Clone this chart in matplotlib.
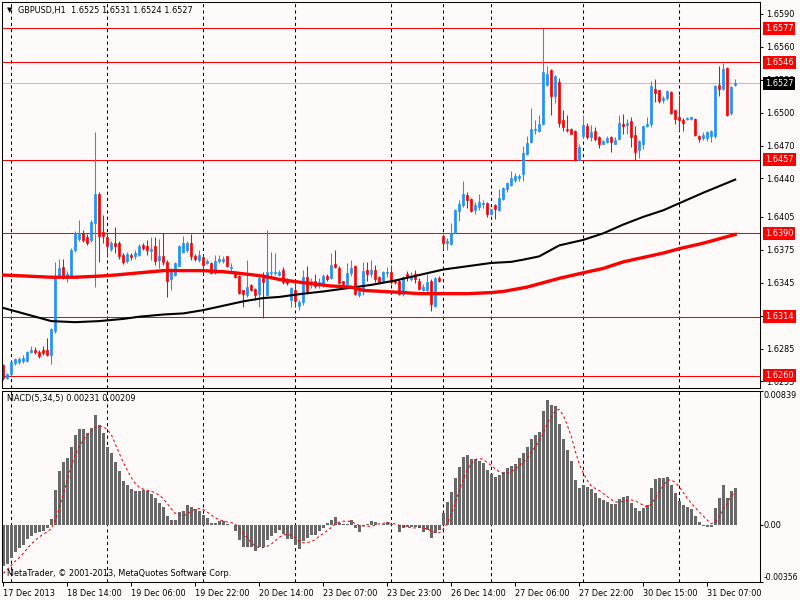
import numpy as np
import pandas as pd
import matplotlib
matplotlib.use("Agg")
import matplotlib.pyplot as plt
import matplotlib.transforms as mtransforms

# =========================
# data (bar 0 = 17 Dec 22:00)
# =========================
open_ = [
    1.6270, 1.6258, 1.6262, 1.6272, 1.6273, 1.6274, 1.6274, 1.6282, 1.6284, 1.6282,
    1.6284, 1.6284, 1.6279, 1.6301, 1.6352, 1.6359, 1.6349, 1.6352, 1.6375, 1.6385,
    1.6390, 1.6387, 1.6384, 1.6399, 1.6426, 1.6391, 1.6387, 1.6376, 1.6381, 1.6381,
    1.6370, 1.6365, 1.6370, 1.6369, 1.6370, 1.6379, 1.6378, 1.6374, 1.6378, 1.6366,
    1.6369, 1.6364, 1.6348, 1.6352, 1.6360, 1.6373, 1.6375, 1.6381, 1.6369, 1.6366,
    1.6368, 1.6363, 1.6363, 1.6354, 1.6365, 1.6365, 1.6369, 1.6358, 1.6355, 1.6351,
    1.6338, 1.6334, 1.6343, 1.6339, 1.6335, 1.6350, 1.6334, 1.6354, 1.6354, 1.6352,
    1.6357, 1.6348, 1.6329, 1.6338, 1.6324, 1.6327, 1.6350, 1.6344, 1.6347, 1.6343,
    1.6344, 1.6351, 1.6349, 1.6362, 1.6358, 1.6347, 1.6344, 1.6354, 1.6360, 1.6334,
    1.6338, 1.6357, 1.6353, 1.6357, 1.6350, 1.6347, 1.6354, 1.6355, 1.6347, 1.6347,
    1.6335, 1.6353, 1.6348, 1.6353, 1.6347, 1.6338, 1.6338, 1.6347, 1.6324, 1.6349,
    1.6388, 1.6381, 1.6380, 1.6390, 1.6410, 1.6416, 1.6425, 1.6421, 1.6411, 1.6414,
    1.6417, 1.6418, 1.6408, 1.6416, 1.6411, 1.6421, 1.6430, 1.6434, 1.6439, 1.6440,
    1.6444, 1.6462, 1.6473, 1.6484, 1.6483, 1.6490, 1.6525, 1.6539, 1.6515, 1.6528,
    1.6493, 1.6485, 1.6485, 1.6483, 1.6457, 1.6479, 1.6488, 1.6478, 1.6483, 1.6478,
    1.6471, 1.6473, 1.6478, 1.6471, 1.6476, 1.6490, 1.6489, 1.6492, 1.6480, 1.6466,
    1.6471, 1.6488, 1.6490, 1.6522, 1.6521, 1.6512, 1.6513, 1.6519, 1.6502, 1.6496,
    1.6493, 1.6494, 1.6494, 1.6494, 1.6479, 1.6477, 1.6477, 1.6479, 1.6479, 1.6525,
    1.6522, 1.6541, 1.6500, 1.6525]

high_ = [
    1.6271, 1.6263, 1.6274, 1.6276, 1.6277, 1.6279, 1.6283, 1.6287, 1.6286, 1.6284,
    1.6287, 1.6295, 1.6304, 1.6364, 1.6367, 1.6367, 1.6356, 1.6377, 1.6392, 1.6402,
    1.6393, 1.6389, 1.6402, 1.6482, 1.6428, 1.6407, 1.6390, 1.6383, 1.6396, 1.6383,
    1.6372, 1.6373, 1.6372, 1.6375, 1.6380, 1.6381, 1.6384, 1.6387, 1.6387, 1.6385,
    1.6390, 1.6366, 1.6358, 1.6364, 1.6379, 1.6388, 1.6383, 1.6389, 1.6371, 1.6375,
    1.6370, 1.6367, 1.6364, 1.6370, 1.6370, 1.6369, 1.6369, 1.6363, 1.6356, 1.6352,
    1.6338, 1.6366, 1.6344, 1.6340, 1.6352, 1.6355, 1.6393, 1.6373, 1.6372, 1.6357,
    1.6359, 1.6349, 1.6341, 1.6346, 1.6329, 1.6357, 1.6360, 1.6349, 1.6353, 1.6349,
    1.6353, 1.6353, 1.6372, 1.6375, 1.6360, 1.6347, 1.6363, 1.6366, 1.6361, 1.6341,
    1.6364, 1.6364, 1.6366, 1.6361, 1.6351, 1.6356, 1.6359, 1.6361, 1.6348, 1.6348,
    1.6351, 1.6356, 1.6355, 1.6357, 1.6349, 1.6344, 1.6353, 1.6348, 1.6350, 1.6351,
    1.6389, 1.6386, 1.6399, 1.6412, 1.6420, 1.6438, 1.6428, 1.6422, 1.6419, 1.6426,
    1.6420, 1.6419, 1.6412, 1.6417, 1.6430, 1.6432, 1.6437, 1.6447, 1.6445, 1.6444,
    1.6470, 1.6479, 1.6504, 1.6493, 1.6498, 1.6577, 1.6543, 1.6540, 1.6534, 1.6532,
    1.6502, 1.6498, 1.6486, 1.6484, 1.6471, 1.6498, 1.6491, 1.6489, 1.6487, 1.6479,
    1.6475, 1.6479, 1.6479, 1.6478, 1.6498, 1.6499, 1.6494, 1.6496, 1.6488, 1.6475,
    1.6489, 1.6496, 1.6529, 1.6531, 1.6521, 1.6515, 1.6521, 1.6520, 1.6502, 1.6516,
    1.6495, 1.6496, 1.6496, 1.6495, 1.6480, 1.6482, 1.6483, 1.6484, 1.6525, 1.6543,
    1.6545, 1.6542, 1.6524, 1.6531]

low_ = [
    1.6256, 1.6257, 1.6260, 1.6270, 1.6271, 1.6272, 1.6273, 1.6281, 1.6280, 1.6276,
    1.6279, 1.6278, 1.6271, 1.6299, 1.6350, 1.6348, 1.6346, 1.6350, 1.6373, 1.6383,
    1.6382, 1.6379, 1.6382, 1.6341, 1.6364, 1.6381, 1.6369, 1.6374, 1.6372, 1.6367,
    1.6362, 1.6363, 1.6366, 1.6367, 1.6369, 1.6375, 1.6370, 1.6366, 1.6361, 1.6358,
    1.6361, 1.6332, 1.6338, 1.6351, 1.6360, 1.6372, 1.6373, 1.6366, 1.6365, 1.6364,
    1.6353, 1.6362, 1.6353, 1.6353, 1.6363, 1.6363, 1.6359, 1.6355, 1.6349, 1.6335,
    1.6323, 1.6332, 1.6337, 1.6329, 1.6323, 1.6313, 1.6333, 1.6350, 1.6352, 1.6351,
    1.6344, 1.6343, 1.6323, 1.6323, 1.6320, 1.6325, 1.6335, 1.6340, 1.6340, 1.6340,
    1.6341, 1.6347, 1.6348, 1.6358, 1.6344, 1.6343, 1.6343, 1.6351, 1.6334, 1.6332,
    1.6334, 1.6347, 1.6350, 1.6346, 1.6345, 1.6346, 1.6350, 1.6344, 1.6344, 1.6334,
    1.6333, 1.6347, 1.6347, 1.6345, 1.6338, 1.6337, 1.6335, 1.6319, 1.6323, 1.6346,
    1.6376, 1.6375, 1.6379, 1.6390, 1.6401, 1.6414, 1.6413, 1.6409, 1.6408, 1.6411,
    1.6413, 1.6405, 1.6407, 1.6403, 1.6410, 1.6420, 1.6428, 1.6433, 1.6437, 1.6438,
    1.6438, 1.6461, 1.6472, 1.6481, 1.6482, 1.6489, 1.6524, 1.6498, 1.6509, 1.6487,
    1.6483, 1.6482, 1.6481, 1.6456, 1.6456, 1.6477, 1.6476, 1.6474, 1.6474, 1.6468,
    1.6471, 1.6472, 1.6464, 1.6471, 1.6475, 1.6481, 1.6481, 1.6469, 1.6457, 1.6459,
    1.6467, 1.6487, 1.6487, 1.6510, 1.6509, 1.6509, 1.6512, 1.6499, 1.6490, 1.6483,
    1.6483, 1.6493, 1.6493, 1.6479, 1.6473, 1.6475, 1.6474, 1.6473, 1.6477, 1.6515,
    1.6521, 1.6497, 1.6498, 1.6524]

close_ = [
    1.6258, 1.6262, 1.6273, 1.6275, 1.6275, 1.6276, 1.6282, 1.6284, 1.6282, 1.6278,
    1.6281, 1.6279, 1.6303, 1.6349, 1.6358, 1.6350, 1.6353, 1.6375, 1.6390, 1.6390,
    1.6384, 1.6381, 1.6400, 1.6426, 1.6388, 1.6388, 1.6378, 1.6381, 1.6378, 1.6369,
    1.6364, 1.6371, 1.6368, 1.6372, 1.6378, 1.6377, 1.6375, 1.6376, 1.6365, 1.6369,
    1.6364, 1.6347, 1.6355, 1.6363, 1.6378, 1.6381, 1.6381, 1.6369, 1.6367, 1.6370,
    1.6361, 1.6365, 1.6354, 1.6365, 1.6367, 1.6367, 1.6360, 1.6359, 1.6350, 1.6336,
    1.6335, 1.6341, 1.6338, 1.6334, 1.6349, 1.6346, 1.6355, 1.6355, 1.6355, 1.6355,
    1.6346, 1.6345, 1.6340, 1.6328, 1.6327, 1.6350, 1.6337, 1.6347, 1.6342, 1.6346,
    1.6351, 1.6348, 1.6361, 1.6359, 1.6345, 1.6344, 1.6354, 1.6358, 1.6335, 1.6338,
    1.6356, 1.6353, 1.6357, 1.6348, 1.6346, 1.6355, 1.6355, 1.6346, 1.6346, 1.6335,
    1.6350, 1.6350, 1.6350, 1.6348, 1.6339, 1.6341, 1.6346, 1.6326, 1.6349, 1.6347,
    1.6381, 1.6383, 1.6390, 1.6411, 1.6417, 1.6426, 1.6420, 1.6410, 1.6416, 1.6419,
    1.6418, 1.6408, 1.6412, 1.6412, 1.6422, 1.6431, 1.6436, 1.6440, 1.6442, 1.6442,
    1.6463, 1.6472, 1.6485, 1.6485, 1.6490, 1.6537, 1.6535, 1.6515, 1.6533, 1.6491,
    1.6487, 1.6484, 1.6481, 1.6457, 1.6469, 1.6489, 1.6478, 1.6482, 1.6476, 1.6471,
    1.6474, 1.6477, 1.6473, 1.6475, 1.6491, 1.6488, 1.6491, 1.6478, 1.6464, 1.6474,
    1.6488, 1.6490, 1.6524, 1.6518, 1.6511, 1.6513, 1.6520, 1.6500, 1.6494, 1.6493,
    1.6491, 1.6495, 1.6496, 1.6480, 1.6476, 1.6480, 1.6482, 1.6483, 1.6524, 1.6522,
    1.6540, 1.6498, 1.6523, 1.6527]

# moving averages (read at a few bars)
black_ma_bars = [0, 6, 12, 18, 24, 30, 34, 40, 45, 50, 55, 60, 65, 69, 75, 80, 86, 92,
                 98, 104, 110, 116, 122, 127, 130, 134, 137, 139, 145, 150, 155, 160,
                 165, 170, 175, 183]
black_ma = [1.6322, 1.6316, 1.6310, 1.6309, 1.6310, 1.6312, 1.6314, 1.6316, 1.6317,
            1.6320, 1.6324, 1.6328, 1.6331, 1.6332, 1.6335, 1.6337, 1.6340, 1.6343,
            1.6347, 1.6352, 1.6357, 1.6360, 1.6363, 1.6364, 1.6366, 1.6369, 1.6375,
            1.6379, 1.6384, 1.6390, 1.6398, 1.6405, 1.6411, 1.6419, 1.6427, 1.6439]
red_ma_bars = [0, 6, 12, 18, 24, 28, 34, 40, 50, 55, 58, 65, 69, 75, 82, 87, 90, 95,
               100, 104, 110, 116, 122, 125, 128, 131, 134, 137, 139, 145, 150, 155,
               160, 165, 169, 175, 183]
red_ma = [1.6352, 1.6351, 1.6350, 1.6350, 1.6351, 1.6352, 1.6354, 1.6356, 1.6356,
          1.6355, 1.6354, 1.6351, 1.6348, 1.6345, 1.6342, 1.6341, 1.6338, 1.6337,
          1.6336, 1.6335, 1.6335, 1.6335, 1.6336, 1.6337, 1.6339, 1.6341, 1.6344,
          1.6347, 1.6349, 1.6354, 1.6358, 1.6364, 1.6368, 1.6372, 1.6376, 1.6381, 1.6389]

# MACD(5,34,5) histogram
macd_hist = [
    -0.00257, -0.00244, -0.00204, -0.00167, -0.00146, -0.00125, -0.00088, -0.00067, -0.00048, -0.00042,
    -0.00035, -0.00021, 0.00038, 0.00219, 0.00338, 0.00396, 0.00417, 0.00490, 0.00563, 0.00599,
    0.00599, 0.00574, 0.00609, 0.00688, 0.00626, 0.00574, 0.00490, 0.00453, 0.00396, 0.00338,
    0.00277, 0.00250, 0.00225, 0.00215, 0.00215, 0.00219, 0.00215, 0.00194, 0.00167, 0.00140,
    0.00115, 0.00056, 0.00031, 0.00031, 0.00079, 0.00090, 0.00125, 0.00111, 0.00098, 0.00090,
    0.00063, 0.00046, 0.00015, 0.00015, 0.00027, 0.00027, 0.00010, -0.00002, -0.00035, -0.00094,
    -0.00136, -0.00136, -0.00136, -0.00161, -0.00136, -0.00136, -0.00094, -0.00069, -0.00052, -0.00031,
    -0.00056, -0.00090, -0.00090, -0.00125, -0.00150, -0.00100, -0.00079, -0.00063, -0.00063, -0.00038,
    -0.00021, 0.00015, 0.00031, 0.00052, 0.00015, 0.00010, 0.00010, 0.00031, -0.00021, -0.00042,
    -0.00006, 0.00006, 0.00025, 0.00017, -0.00002, 0.00010, 0.00021, 0.00010, -0.00002, -0.00042,
    -0.00017, -0.00010, -0.00010, -0.00010, -0.00021, -0.00042, -0.00031, -0.00083, -0.00052, -0.00031,
    0.00073, 0.00146, 0.00209, 0.00292, 0.00365, 0.00423, 0.00438, 0.00411, 0.00411, 0.00403,
    0.00390, 0.00344, 0.00319, 0.00302, 0.00313, 0.00334, 0.00355, 0.00369, 0.00382, 0.00417,
    0.00453, 0.00486, 0.00536, 0.00563, 0.00584, 0.00713, 0.00782, 0.00749, 0.00745, 0.00630,
    0.00536, 0.00469, 0.00401, 0.00282, 0.00229, 0.00254, 0.00240, 0.00225, 0.00198, 0.00167,
    0.00156, 0.00146, 0.00129, 0.00129, 0.00163, 0.00173, 0.00181, 0.00140, 0.00104, 0.00090,
    0.00104, 0.00125, 0.00234, 0.00286, 0.00292, 0.00292, 0.00298, 0.00250, 0.00202, 0.00152,
    0.00125, 0.00115, 0.00098, 0.00056, 0.00017, -0.00004, -0.00010, -0.00015, 0.00104, 0.00167,
    0.00250, 0.00167, 0.00213, 0.00231]
signal_head = [-0.00302, -0.00277, -0.00252, -0.00225]   # first bars of the signal line

levels = [1.6577, 1.6546, 1.6457, 1.6390, 1.6314, 1.6260]
bid = 1.6527
price_ticks = [1.6590, 1.6560, 1.6530, 1.6500, 1.6470, 1.6440, 1.6405,
               1.6375, 1.6345, 1.6315, 1.6285, 1.6255]
day_start_bars = [2, 26, 50, 73, 97, 110, 122, 145, 169]
time_bars = [0, 16, 32, 48, 64, 80, 96, 112, 128, 144, 160, 176]
time_labels = ["17 Dec 2013", "18 Dec 14:00", "19 Dec 06:00", "19 Dec 22:00",
               "20 Dec 14:00", "23 Dec 07:00", "23 Dec 23:00", "26 Dec 14:00",
               "27 Dec 06:00", "27 Dec 22:00", "30 Dec 15:00", "31 Dec 07:00"]

# =========================
# figure
# =========================
plt.rcParams['font.family'] = ['DejaVu Sans']
plt.rcParams['font.size'] = 5.9

BG = '#FFFAFA'
W, H = 800, 600


def px_rect(x0, y0, x1, y1):
    return [x0 / W, 1 - y1 / H, (x1 - x0) / W, (y1 - y0) / H]


fig = plt.figure(figsize=(8, 6), dpi=100, facecolor=BG)
ax = fig.add_axes(px_rect(1.5, 2, 760, 388), facecolor=BG)
axm = fig.add_axes(px_rect(1.5, 391, 760, 582), facecolor=BG)

o = np.array(open_)
h = np.array(high_)
l = np.array(low_)
c = np.array(close_)
n = len(c)
x = np.arange(n)
cols = np.where(c >= o, '#1E90FF', '#FF0000')

# --- main chart
for b in day_start_bars:
    ax.axvline(b, color='black', lw=0.75, dashes=(3, 3), zorder=1)
    axm.axvline(b, color='black', lw=0.75, dashes=(3, 3), zorder=1)

for lv in levels:
    ax.axhline(lv, color='red', lw=0.75, zorder=1)
ax.axhline(bid, color='#C0C0C0', lw=0.75, zorder=1)

ax.vlines(x, l, h, colors=cols, lw=0.75, zorder=2)
ax.bar(x, np.abs(c - o), bottom=np.minimum(o, c), width=0.6, color=cols,
       edgecolor=cols, linewidth=0.5, zorder=2)

ax.plot(black_ma_bars, black_ma, color='black', lw=1.5, zorder=3)
ax.plot(red_ma_bars, red_ma, color='red', lw=2.4, zorder=3)

ax.set_xlim(-0.45, 189.2)
ax.set_ylim(1.62490, 1.66009)
ax.yaxis.tick_right()
ax.set_yticks(price_ticks)
ax.set_yticklabels([f"{v:.4f}" for v in price_ticks])
ax.tick_params(axis='y', direction='out', length=2.2, width=0.75, pad=2.5)
ax.tick_params(axis='x', bottom=False, labelbottom=False)

lab = mtransforms.offset_copy(
    mtransforms.blended_transform_factory(ax.transAxes, ax.transData),
    fig=fig, x=5, y=0, units='dots')
for lv in levels:
    ax.text(1.0, lv, f"{lv:.4f}", transform=lab, color='white', va='center',
            ha='left', clip_on=False, zorder=6,
            bbox=dict(boxstyle='square,pad=0.25', fc='red', ec='none'))
ax.text(1.0, bid, f"{bid:.4f}", transform=lab, color='white', va='center',
        ha='left', clip_on=False, zorder=6,
        bbox=dict(boxstyle='square,pad=0.25', fc='black', ec='none'))

fig.text(7 / W, 1 - 10.5 / H, "\u25bc", fontsize=5, va='center', ha='left')
fig.text(18 / W, 1 - 10.7 / H, "GBPUSD,H1  1.6525 1.6531 1.6524 1.6527",
         va='center', ha='left')

# --- MACD
sig = pd.Series(macd_hist).rolling(5).mean().to_numpy()
sig[:len(signal_head)] = signal_head

axm.bar(x, macd_hist, width=0.75, color='#696969', linewidth=0, zorder=2)
axm.plot(x, sig, color='red', lw=0.75, dashes=(2.5, 2.5), zorder=3)
axm.set_xlim(-0.45, 189.2)
axm.set_ylim(-0.00356, 0.00839)

axm.yaxis.tick_right()
axm.set_yticks([0.00839, 0.0, -0.00356])
axm.set_yticklabels(['', '', ''])
axm.tick_params(axis='y', direction='out', length=2.2, width=0.75)
mlab = mtransforms.offset_copy(
    mtransforms.blended_transform_factory(axm.transAxes, axm.transData),
    fig=fig, x=3.5, y=0, units='dots')
axm.text(1.0, 0.00839, "0.00839", transform=mlab, va='top', ha='left', clip_on=False)
axm.text(1.0, 0.0, "0.00", transform=mlab, va='center', ha='left', clip_on=False)
axm.text(1.0, -0.00356, "-0.00356", transform=mlab, va='bottom', ha='left',
         clip_on=False, fontsize=5.6)

axm.set_xticks(time_bars)
axm.set_xticklabels(time_labels, ha='left')
axm.tick_params(axis='x', direction='out', length=3, width=0.75, pad=1.8)

fig.text(7 / W, 1 - 399 / H, "MACD(5,34,5) 0.00231 0.00209", va='center', ha='left')
fig.text(7 / W, 1 - 574 / H, "MetaTrader, \u00a9 2001-2013, MetaQuotes Software Corp.",
         va='center', ha='left')

for a in (ax, axm):
    for s in a.spines.values():
        s.set_linewidth(0.75)
        s.set_color('black')

fig.savefig('out.png', dpi=100, facecolor=BG)
